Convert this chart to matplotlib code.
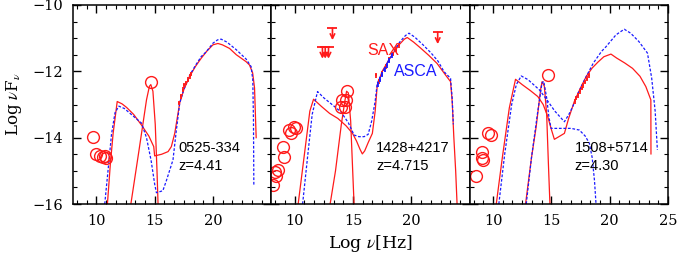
import numpy as np
import matplotlib.pyplot as plt
from matplotlib.ticker import MultipleLocator, AutoMinorLocator

# ---------------- data ----------------
# panel 1 : 0525-334
p1_circ_x = [9.74, 9.94, 10.31, 10.59, 10.82, 10.7, 14.67]
p1_circ_y = [-13.97, -14.5, -14.55, -14.59, -14.62, -14.55, -12.31]
p1_tot_x = [10.95, 11.2, 11.44, 11.79, 12.2, 12.6, 13.2, 13.87, 14.5, 14.92, 15.0, 15.6, 16.15, 16.43, 16.72,
            17.15, 17.5, 18.0, 18.5, 19.0, 19.5, 20.0, 20.42, 20.8, 21.42, 22.0, 22.84, 23.13, 23.4, 23.56, 23.7]
p1_tot_y = [-16.0, -14.8, -13.87, -12.91, -12.98, -13.09, -13.3, -13.62, -13.95, -14.27, -14.55, -14.5, -14.42, -14.27, -13.87,
            -12.95, -12.55, -12.15, -11.85, -11.6, -11.38, -11.2, -11.16, -11.2, -11.31, -11.5, -11.71, -11.81, -12.05, -12.5, -14.0]
p1_blue_x = [10.72, 11.0, 11.3, 11.6, 11.93, 12.4, 13.0, 13.87, 14.3, 14.7, 15.0, 15.15, 15.7, 16.0, 16.57, 16.85,
             17.15, 17.5, 18.0, 18.5, 19.0, 19.42, 20.0, 20.4, 20.7, 21.2, 22.0, 22.84, 23.27, 23.41, 23.47, 23.5]
p1_blue_y = [-16.0, -15.0, -13.9, -13.25, -13.05, -13.12, -13.3, -13.56, -14.0, -14.7, -15.4, -15.66, -15.6, -15.3, -14.67, -13.8,
             -12.95, -12.55, -12.12, -11.82, -11.55, -11.41, -11.15, -11.05, -11.03, -11.12, -11.35, -11.63, -11.86, -12.26, -13.5, -15.43]
p1_disk_x = [12.96, 13.65, 14.3, 14.55, 14.67, 14.85, 15.05, 15.2, 15.29]
p1_disk_y = [-16.0, -14.4, -12.86, -12.45, -12.4, -12.6, -13.6, -15.0, -16.0]
p1_xr_x = [17.1, 17.25, 17.4, 17.55, 17.7, 17.85, 18.0, 18.15]
p1_xr_y = [-12.95, -12.75, -12.55, -12.42, -12.35, -12.25, -12.15, -12.08]

# panel 2 : 1428+4217
p2_circ_x = [8.1, 8.28, 8.42, 8.55, 8.97, 9.05, 9.55, 9.7, 9.95, 10.12, 14.01, 14.3, 14.09, 14.38, 14.47]
p2_circ_y = [-15.43, -15.05, -15.15, -14.97, -14.27, -14.57, -13.77, -13.87, -13.67, -13.72, -13.07, -13.08, -12.86, -12.86, -12.58]
p2_tot_x = [10.3, 10.8, 11.3, 11.62, 12.3, 13.0, 13.7, 14.4, 14.96, 15.3, 15.6, 15.8, 16.0, 16.3, 16.66, 16.9, 17.08,
            17.5, 18.0, 18.5, 19.0, 19.4, 19.65, 20.2, 20.8, 21.5, 22.2, 22.93, 23.36, 23.5, 23.64, 23.8, 23.92]
p2_tot_y = [-16.0, -14.6, -13.2, -12.84, -13.06, -13.27, -13.42, -13.64, -13.87, -14.1, -14.35, -14.49, -14.4, -14.15, -13.87, -13.2, -12.41,
            -12.0, -11.7, -11.42, -11.18, -11.03, -10.98, -11.12, -11.3, -11.52, -11.76, -12.11, -12.31, -12.9, -13.97, -15.0, -16.0]
p2_blue_x = [10.68, 11.1, 11.5, 11.96, 12.5, 13.2, 13.96, 14.6, 15.09, 15.5, 15.95, 16.3, 16.6, 16.9, 17.08,
             17.5, 18.0, 18.5, 19.0, 19.5, 19.8, 20.3, 21.0, 21.7, 22.3, 22.8, 23.36, 23.5, 23.6]
p2_blue_y = [-16.0, -14.6, -13.3, -12.61, -12.8, -13.0, -13.22, -13.55, -13.92, -13.97, -13.97, -13.9, -13.5, -12.9, -12.36,
             -12.05, -11.7, -11.4, -11.12, -10.92, -10.85, -10.97, -11.2, -11.45, -11.7, -12.01, -12.21, -12.8, -13.6]
p2_disk_x = [13.04, 13.5, 14.0, 14.3, 14.45, 14.6, 14.8, 14.95, 15.09]
p2_disk_y = [-16.0, -15.0, -13.6, -12.9, -12.6, -12.65, -13.5, -14.8, -16.0]
p2_ul_x = [12.38, 12.62, 12.9, 13.24, 22.26]
p2_ul_y = [-11.26, -11.26, -11.26, -10.70, -10.82]
p2_sax_x = [16.95, 17.2, 17.5, 17.8, 18.1, 18.4, 18.65, 18.95]
p2_sax_y = [-12.12, -12.3, -12.05, -11.85, -11.65, -11.48, -11.35, -11.22]
p2_asca_x = [17.1, 17.3, 17.5, 17.7, 17.9, 18.1, 18.3]
p2_asca_y = [-12.4, -12.25, -12.1, -11.95, -11.82, -11.68, -11.53]

# panel 3 : 1508+5714
p3_circ_x = [8.51, 9.05, 9.07, 9.12, 9.56, 9.85, 14.69]
p3_circ_y = [-15.16, -14.42, -14.6, -14.68, -13.87, -13.92, -12.11]
p3_tot_x = [10.28, 10.8, 11.4, 11.93, 12.5, 13.2, 13.84, 14.3, 14.69, 15.0, 15.26, 15.6, 16.12, 16.5, 16.97,
            17.5, 18.0, 18.5, 19.0, 19.5, 20.11, 20.6, 21.3, 21.96, 22.6, 23.1, 23.53, 23.54]
p3_tot_y = [-16.0, -14.6, -13.1, -12.24, -12.4, -12.58, -12.76, -13.0, -13.36, -13.75, -14.05, -13.98, -13.87, -13.4, -12.91,
            -12.5, -12.15, -11.9, -11.72, -11.56, -11.48, -11.6, -11.75, -11.91, -12.15, -12.46, -12.86, -14.49]
p3_blue_x = [10.5, 11.0, 11.6, 12.0, 12.42, 13.0, 13.98, 14.6, 15.3, 16.12, 16.5, 16.83, 17.3, 18.0, 18.6,
             19.3, 19.68, 20.54, 21.25, 21.8, 22.5, 23.24, 23.6, 23.9, 24.09]
p3_blue_y = [-16.0, -14.5, -13.0, -12.4, -12.14, -12.25, -12.56, -12.85, -13.2, -13.52, -13.3, -13.07, -12.65, -12.15, -11.75,
             -11.4, -11.26, -10.9, -10.73, -10.85, -11.1, -11.45, -12.2, -13.2, -14.37]
p3_disk_x = [12.79, 13.3, 13.7, 14.1, 14.21, 14.4, 14.6, 14.75, 14.88]
p3_disk_y = [-16.0, -14.6, -13.67, -12.5, -12.31, -12.45, -13.3, -14.8, -16.0]
p3_bdisk_x = [12.85, 13.3, 13.8, 14.2, 14.35, 14.6, 14.8, 14.98, 15.5, 16.69, 17.4, 17.9, 18.26, 18.5, 18.7, 18.83]
p3_bdisk_y = [-16.0, -14.6, -13.3, -12.35, -12.3, -12.8, -13.4, -13.72, -13.72, -13.72, -13.77, -13.95, -14.17, -14.6, -15.3, -16.0]
p3_xr_x = [17.0, 17.15, 17.3, 17.45, 17.6, 17.75, 17.9, 18.05, 18.2]
p3_xr_y = [-12.9, -12.8, -12.72, -12.6, -12.5, -12.42, -12.32, -12.22, -12.12]

names = ['0525-334', '1428+4217', '1508+5714']
zs = ['z=4.41', 'z=4.715', 'z=4.30']

# ---------------- figure ----------------
plt.rcParams['font.family'] = ['DejaVu Serif']
plt.rcParams['mathtext.fontset'] = 'stix'

fig = plt.figure(figsize=(6.78, 2.56), dpi=100)
W, H = 678.0, 256.0
pw = 595.0 / 3
axs = [fig.add_axes([(73 + i * pw) / W, 1 - 204 / H, pw / W, 199 / H]) for i in range(3)]

dash = (0, (2.2, 1.4))
red = '#ff1a1a'
blue = '#1a1aff'
sans = 'Liberation Sans'

def draw_circles(ax, x, y):
    ax.plot(x, y, 'o', mfc='none', mec=red, ms=8.5, mew=1.0)

def draw_xray(ax, x, y, c):
    ax.errorbar(x, y, xerr=0.08, yerr=0.07, fmt='none', ecolor=c, elinewidth=1.3)

ax = axs[0]
ax.plot(p1_tot_x, p1_tot_y, color=red, lw=0.9)
ax.plot(p1_disk_x, p1_disk_y, color=red, lw=0.9)
ax.plot(p1_blue_x, p1_blue_y, color=blue, lw=0.9, ls=dash)
draw_xray(ax, p1_xr_x, p1_xr_y, red)
draw_circles(ax, p1_circ_x, p1_circ_y)

ax = axs[1]
ax.plot(p2_tot_x, p2_tot_y, color=red, lw=0.9)
ax.plot(p2_disk_x, p2_disk_y, color=red, lw=0.9)
ax.plot(p2_blue_x, p2_blue_y, color=blue, lw=0.9, ls=dash)
draw_xray(ax, p2_sax_x, p2_sax_y, red)
draw_xray(ax, p2_asca_x, p2_asca_y, blue)
draw_circles(ax, p2_circ_x, p2_circ_y)
# upper limits: bar + downward arrow
ax.plot(p2_ul_x, p2_ul_y, '_', color=red, ms=7, mew=1.3)
for x, y in zip(p2_ul_x, p2_ul_y):
    ax.annotate('', xy=(x, y - 0.36), xytext=(x, y),
                arrowprops=dict(arrowstyle='->', color=red, lw=1.2,
                                shrinkA=0, shrinkB=0, mutation_scale=8))
ax.text(16.2, -11.36, 'SAX', color=red, fontsize=11.5, family=sans, va='center')
ax.text(18.5, -12.01, 'ASCA', color=blue, fontsize=11.5, family=sans, va='center')

ax = axs[2]
ax.plot(p3_tot_x, p3_tot_y, color=red, lw=0.9)
ax.plot(p3_disk_x, p3_disk_y, color=red, lw=0.9)
ax.plot(p3_blue_x, p3_blue_y, color=blue, lw=0.9, ls=dash)
ax.plot(p3_bdisk_x, p3_bdisk_y, color=blue, lw=0.9, ls=dash)
draw_xray(ax, p3_xr_x, p3_xr_y, red)
draw_circles(ax, p3_circ_x, p3_circ_y)

for i, ax in enumerate(axs):
    ax.set_xlim(8, 25)
    ax.set_ylim(-16, -10)
    ax.xaxis.set_major_locator(MultipleLocator(5))
    ax.xaxis.set_minor_locator(AutoMinorLocator(6))
    ax.yaxis.set_major_locator(MultipleLocator(2))
    ax.yaxis.set_minor_locator(AutoMinorLocator(4))
    ax.tick_params(which='both', direction='in', top=True, right=True, labelsize=10.5)
    ax.tick_params(which='major', length=6, width=1.0)
    ax.tick_params(which='minor', length=3, width=0.8)
    ax.tick_params(axis='x', pad=7)
    ax.tick_params(axis='y', pad=7)
    for s in ax.spines.values():
        s.set_linewidth(1.1)
    if i < 2:
        ax.set_xticks([10, 15, 20])
    else:
        ax.set_xticks([10, 15, 20, 25])
    if i > 0:
        ax.set_yticklabels([])
    ax.text(17.0, -14.31, names[i], fontsize=10.5, family=sans, va='center')
    ax.text(17.0, -14.85, zs[i], fontsize=10.5, family=sans, va='center')

axs[0].set_ylabel(r'Log $\nu$F$_\nu$', fontsize=12, labelpad=6)
fig.text(371 / W, 1 - 244 / H, r'Log $\nu$[Hz]', fontsize=12.5, ha='center', va='center')

fig.savefig('out.png', dpi=100)
